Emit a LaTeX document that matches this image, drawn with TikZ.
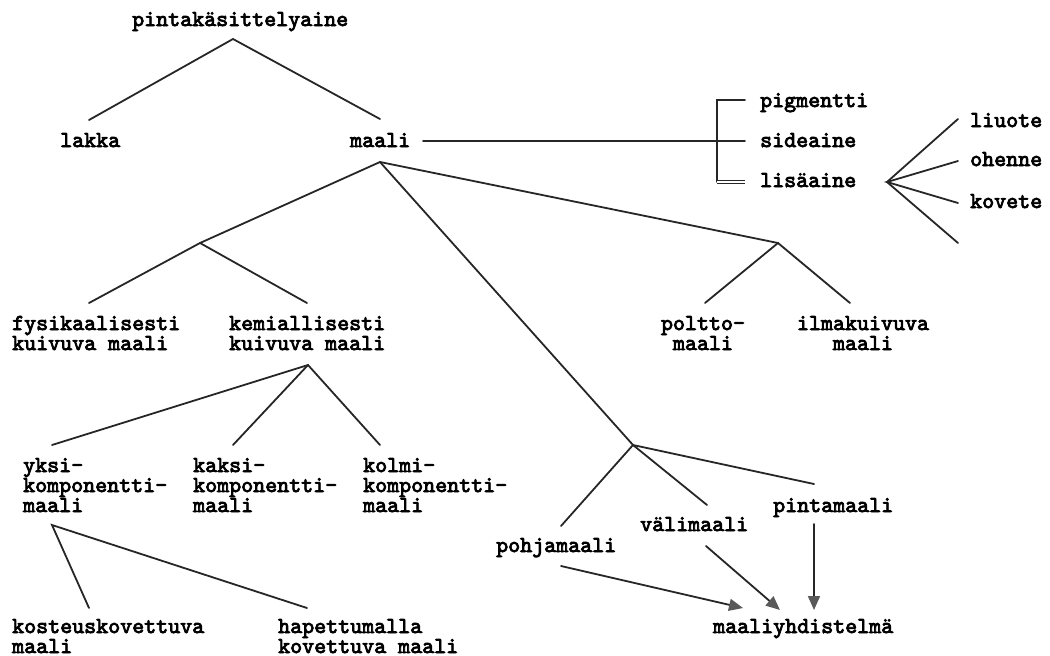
\documentclass[tikz,border=0pt]{standalone}
\usepackage{fontspec}
\usetikzlibrary{arrows.meta}
\newfontfamily\typew[FakeBold=3.5]{lmmono10-regular.otf}

\tikzset{
  lbl/.style={inner sep=0pt, anchor=base west, align=left,
    font=\typew\fontsize{22.86}{20}\selectfont},
  clbl/.style={lbl, anchor=base, align=center},
  branch/.style={line width=1.8pt, line cap=round, draw=black!85},
  flow/.style={branch, -{Triangle[length=14pt,width=12pt,color=black!65]}},
}

\begin{document}
\begin{tikzpicture}[x=1pt,y=-1pt]
\useasboundingbox (0,0) rectangle (1050,656);
% branch points and line ends
\coordinate (top) at (233,39);
\coordinate (lakka-t) at (89,120);
\coordinate (maali-t) at (380,119);
\coordinate (maali-b) at (380,162);
\coordinate (maali-r) at (423,141);
\coordinate (br-t) at (717,100);
\coordinate (br-b) at (717,182);
\coordinate (pig-l) at (745,100);
\coordinate (side-l) at (745,141);
\coordinate (lisa-l) at (745,182);
\coordinate (fan) at (887,182);
\coordinate (fan-1) at (958,119);
\coordinate (fan-2) at (958,161);
\coordinate (fan-3) at (958,203);
\coordinate (fan-4) at (958,243);
\coordinate (kuiv) at (200,243);
\coordinate (fys-t) at (89,303);
\coordinate (kem-t) at (307,303);
\coordinate (kem-b) at (308,365);
\coordinate (yksi-t) at (52,445);
\coordinate (kaksi-t) at (233,445);
\coordinate (kolmi-t) at (380,445);
\coordinate (yksi-b) at (52,525);
\coordinate (kost-t) at (89,608);
\coordinate (hap-t) at (307,608);
\coordinate (tapa) at (778,243);
\coordinate (poltto-t) at (705,303);
\coordinate (ilma-t) at (850,303);
\coordinate (kerros) at (633,445);
\coordinate (pohja-t) at (561,526);
\coordinate (vali-t) at (707,505);
\coordinate (pinta-t) at (814,484);
\coordinate (pohja-b) at (561,566);
\coordinate (vali-b) at (706,546);
\coordinate (pinta-b) at (814,524);
\coordinate (yhd-1) at (743,608);
\coordinate (yhd-2) at (780,610);
\coordinate (yhd-3) at (814,610);

% tree
\draw[branch] (lakka-t)--(top)--(maali-t);
\draw[branch] (maali-r)--(side-l);
\draw[branch] (pig-l)--(br-t)--(br-b);
\draw[branch, line width=1pt, double, double distance=1.6pt, line cap=butt] (br-b)--(lisa-l);
\draw[branch] (fan-1)--(fan)--(fan-4);
\draw[branch] (fan-2)--(fan)--(fan-3);
\draw[branch] (kuiv)--(maali-b)--(tapa);
\draw[branch] (maali-b)--(kerros);
\draw[branch] (fys-t)--(kuiv)--(kem-t);
\draw[branch] (yksi-t)--(kem-b)--(kolmi-t);
\draw[branch] (kem-b)--(kaksi-t);
\draw[branch] (kost-t)--(yksi-b)--(hap-t);
\draw[branch] (poltto-t)--(tapa)--(ilma-t);
\draw[branch] (pohja-t)--(kerros)--(pinta-t);
\draw[branch] (kerros)--(vali-t);
\draw[flow] (pohja-b)--(yhd-1);
\draw[flow] (vali-b)--(yhd-2);
\draw[flow] (pinta-b)--(yhd-3);

% labels (multi-line ones sit on their last line)
\node[lbl] (root) at (132,26) {pintakäsittelyaine};
\node[lbl] (lakka) at (60,147) {lakka};
\node[lbl] (maali) at (350,147) {maali};
\node[lbl] (pigmentti) at (760,107) {pigmentti};
\node[lbl] (sideaine) at (760,147) {sideaine};
\node[lbl] (lisaaine) at (760,187) {lisäaine};
\node[lbl] (liuote) at (970,127) {liuote};
\node[lbl] (ohenne) at (970,166) {ohenne};
\node[lbl] (kovete) at (970,208) {kovete};
\node[lbl] (fys) at (12,350) {fysikaalisesti\\kuivuva maali};
\node[lbl] (kem) at (229,350) {kemiallisesti\\kuivuva maali};
\node[clbl] (poltto) at (703,350) {poltto-\\maali};
\node[clbl] (ilma) at (863,350) {ilmakuivuva\\maali};
\node[lbl] (yksi) at (23,512) {yksi-\\komponentti-\\maali};
\node[lbl] (kaksi) at (193,512) {kaksi-\\komponentti-\\maali};
\node[lbl] (kolmi) at (363,512) {kolmi-\\komponentti-\\maali};
\node[lbl] (kost) at (12,653) {kosteuskovettuva\\maali};
\node[lbl] (hap) at (278,653) {hapettumalla\\kovettuva maali};
\node[lbl] (pohja) at (496,552) {pohjamaali};
\node[lbl] (vali) at (640,531) {välimaali};
\node[lbl] (pinta) at (773,512) {pintamaali};
\node[lbl] (yhd) at (713,633) {maaliyhdistelmä};
\end{tikzpicture}
\end{document}
